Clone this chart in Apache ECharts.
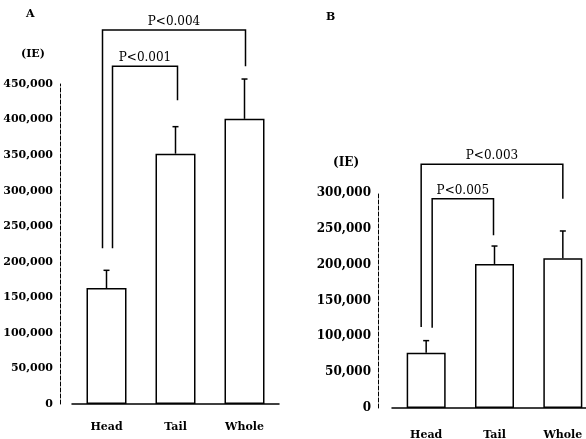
<!DOCTYPE html>
<html><head><meta charset="utf-8">
<script src="https://cdn.jsdelivr.net/npm/echarts@6/dist/echarts.min.js"></script>
<style>html,body{margin:0;padding:0;background:#fff}#c{width:586px;height:439px}</style>
</head><body><div id="c"></div>
<script>
// ---- data ----
const categories = ['Head', 'Tail', 'Whole'];
const meansA = [163000, 352000, 401000];
const errA = [25000, 38000, 56000];
const meansB = [77000, 201000, 209000];
const errB = [17000, 25000, 38000];
const ticksA = [0, 50000, 100000, 150000, 200000, 250000, 300000, 350000, 400000, 450000];
const ticksB = [0, 50000, 100000, 150000, 200000, 250000, 300000];
// brackets: [fromCat, toCat, topValue, leftLegEnd, rightLegEnd, label]
const bracketsA = [
  [0, 2, 526000, 219000, 475000, 'P<0.004'],
  [0, 1, 475000, 219000, 427000, 'P<0.001']
];
const bracketsB = [
  [0, 2, 340000, 113000, 292000, 'P<0.003'],
  [0, 1, 292000, 112000, 241000, 'P<0.005']
];

const font = '"DejaVu Serif", "Liberation Serif", serif';
const chart = echarts.init(document.getElementById('c'));

function fmt(v) { return v === 0 ? '0' : v.toLocaleString('en-US'); }

function errSeries(idx, means, errs) {
  return {
    type: 'custom', xAxisIndex: idx, yAxisIndex: idx, clip: false, z: 3,
    data: means.map((m, i) => [i, m, m + errs[i]]),
    renderItem: function (params, api) {
      const p0 = api.coord([api.value(0), api.value(1)]);
      const p1 = api.coord([api.value(0), api.value(2)]);
      return { type: 'group', children: [
        { type: 'line', shape: { x1: p0[0], y1: p0[1], x2: p1[0], y2: p1[1] }, style: { stroke: '#000', lineWidth: 1.5 } },
        { type: 'line', shape: { x1: p1[0] - 3, y1: p1[1], x2: p1[0] + 3, y2: p1[1] }, style: { stroke: '#000', lineWidth: 1.5 } }
      ]};
    }
  };
}

function bracketSeries(idx, brackets, offsets) {
  return {
    type: 'custom', xAxisIndex: idx, yAxisIndex: idx, clip: false, z: 4,
    data: brackets.map(b => [b[0], b[1], b[2], b[3], b[4]]),
    renderItem: function (params, api) {
      const b = brackets[params.dataIndex];
      const off = offsets[params.dataIndex];
      const l = api.coord([b[0], b[2]]); const r = api.coord([b[1], b[2]]);
      const lx = l[0] + off[0], rx = r[0] + off[1];
      const ly = api.coord([b[0], b[3]])[1];
      const ry = api.coord([b[1], b[4]])[1];
      const ty = l[1];
      return { type: 'group', children: [
        { type: 'polyline', shape: { points: [[lx, ly], [lx, ty], [rx, ty], [rx, ry]] }, style: { stroke: '#000', lineWidth: 1.5, fill: null } },
        { type: 'text', style: { text: b[5], x: (lx + rx) / 2, y: ty - 2, textAlign: 'center', textVerticalAlign: 'bottom', font: '12px ' + font, fill: '#000' } }
      ]};
    }
  };
}

function yAxisCfg(idx, ticks, off, fs) {
  return {
    type: 'value', gridIndex: idx, min: 0, max: ticks[ticks.length - 1], interval: 50000, offset: off,
    axisLine: { show: true, lineStyle: { color: '#000', type: 'dashed', width: 1 } },
    axisTick: { show: false }, splitLine: { show: false },
    axisLabel: { formatter: fmt, color: '#000', fontFamily: font, fontWeight: 'bold', fontSize: fs, margin: 7 }
  };
}

function xAxisCfg(idx, margin) {
  return {
    type: 'category', gridIndex: idx, data: categories,
    axisLine: { lineStyle: { color: '#000', width: 1.5 } }, axisTick: { show: false },
    axisLabel: { color: '#000', fontFamily: font, fontWeight: 'bold', fontSize: 11, margin: margin }
  };
}

chart.setOption({
  backgroundColor: '#fff',
  animation: false,
  grid: [
    { left: 72, top: 84, width: 207, height: 320, outerBoundsMode: 'none', containLabel: false },
    { left: 392, top: 193, width: 205, height: 215, outerBoundsMode: 'none', containLabel: false }
  ],
  xAxis: [xAxisCfg(0, 18), xAxisCfg(1, 22)],
  yAxis: [yAxisCfg(0, ticksA, 12, 11), yAxisCfg(1, ticksB, 14, 12)],
  series: [
    { type: 'bar', xAxisIndex: 0, yAxisIndex: 0, data: meansA, barWidth: 40, itemStyle: { color: '#fff', borderColor: '#000', borderWidth: 1.5 } },
    { type: 'bar', xAxisIndex: 1, yAxisIndex: 1, data: meansB, barWidth: 39, itemStyle: { color: '#fff', borderColor: '#000', borderWidth: 1.5 } },
    errSeries(0, meansA, errA),
    errSeries(1, meansB, errB),
    bracketSeries(0, bracketsA, [[-4, 1], [6, 2]]),
    bracketSeries(1, bracketsB, [[-5, 0], [6, -1]])
  ],
  graphic: [
    { type: 'text', left: 26, top: 9, style: { text: 'A', font: 'bold 11px ' + font, fill: '#000' } },
    { type: 'text', left: 21, top: 49, style: { text: '(IE)', font: 'bold 11px ' + font, fill: '#000' } },
    { type: 'text', left: 326, top: 12, style: { text: 'B', font: 'bold 11px ' + font, fill: '#000' } },
    { type: 'text', left: 333, top: 157, style: { text: '(IE)', font: 'bold 12px ' + font, fill: '#000' } }
  ]
});
</script></body></html>
